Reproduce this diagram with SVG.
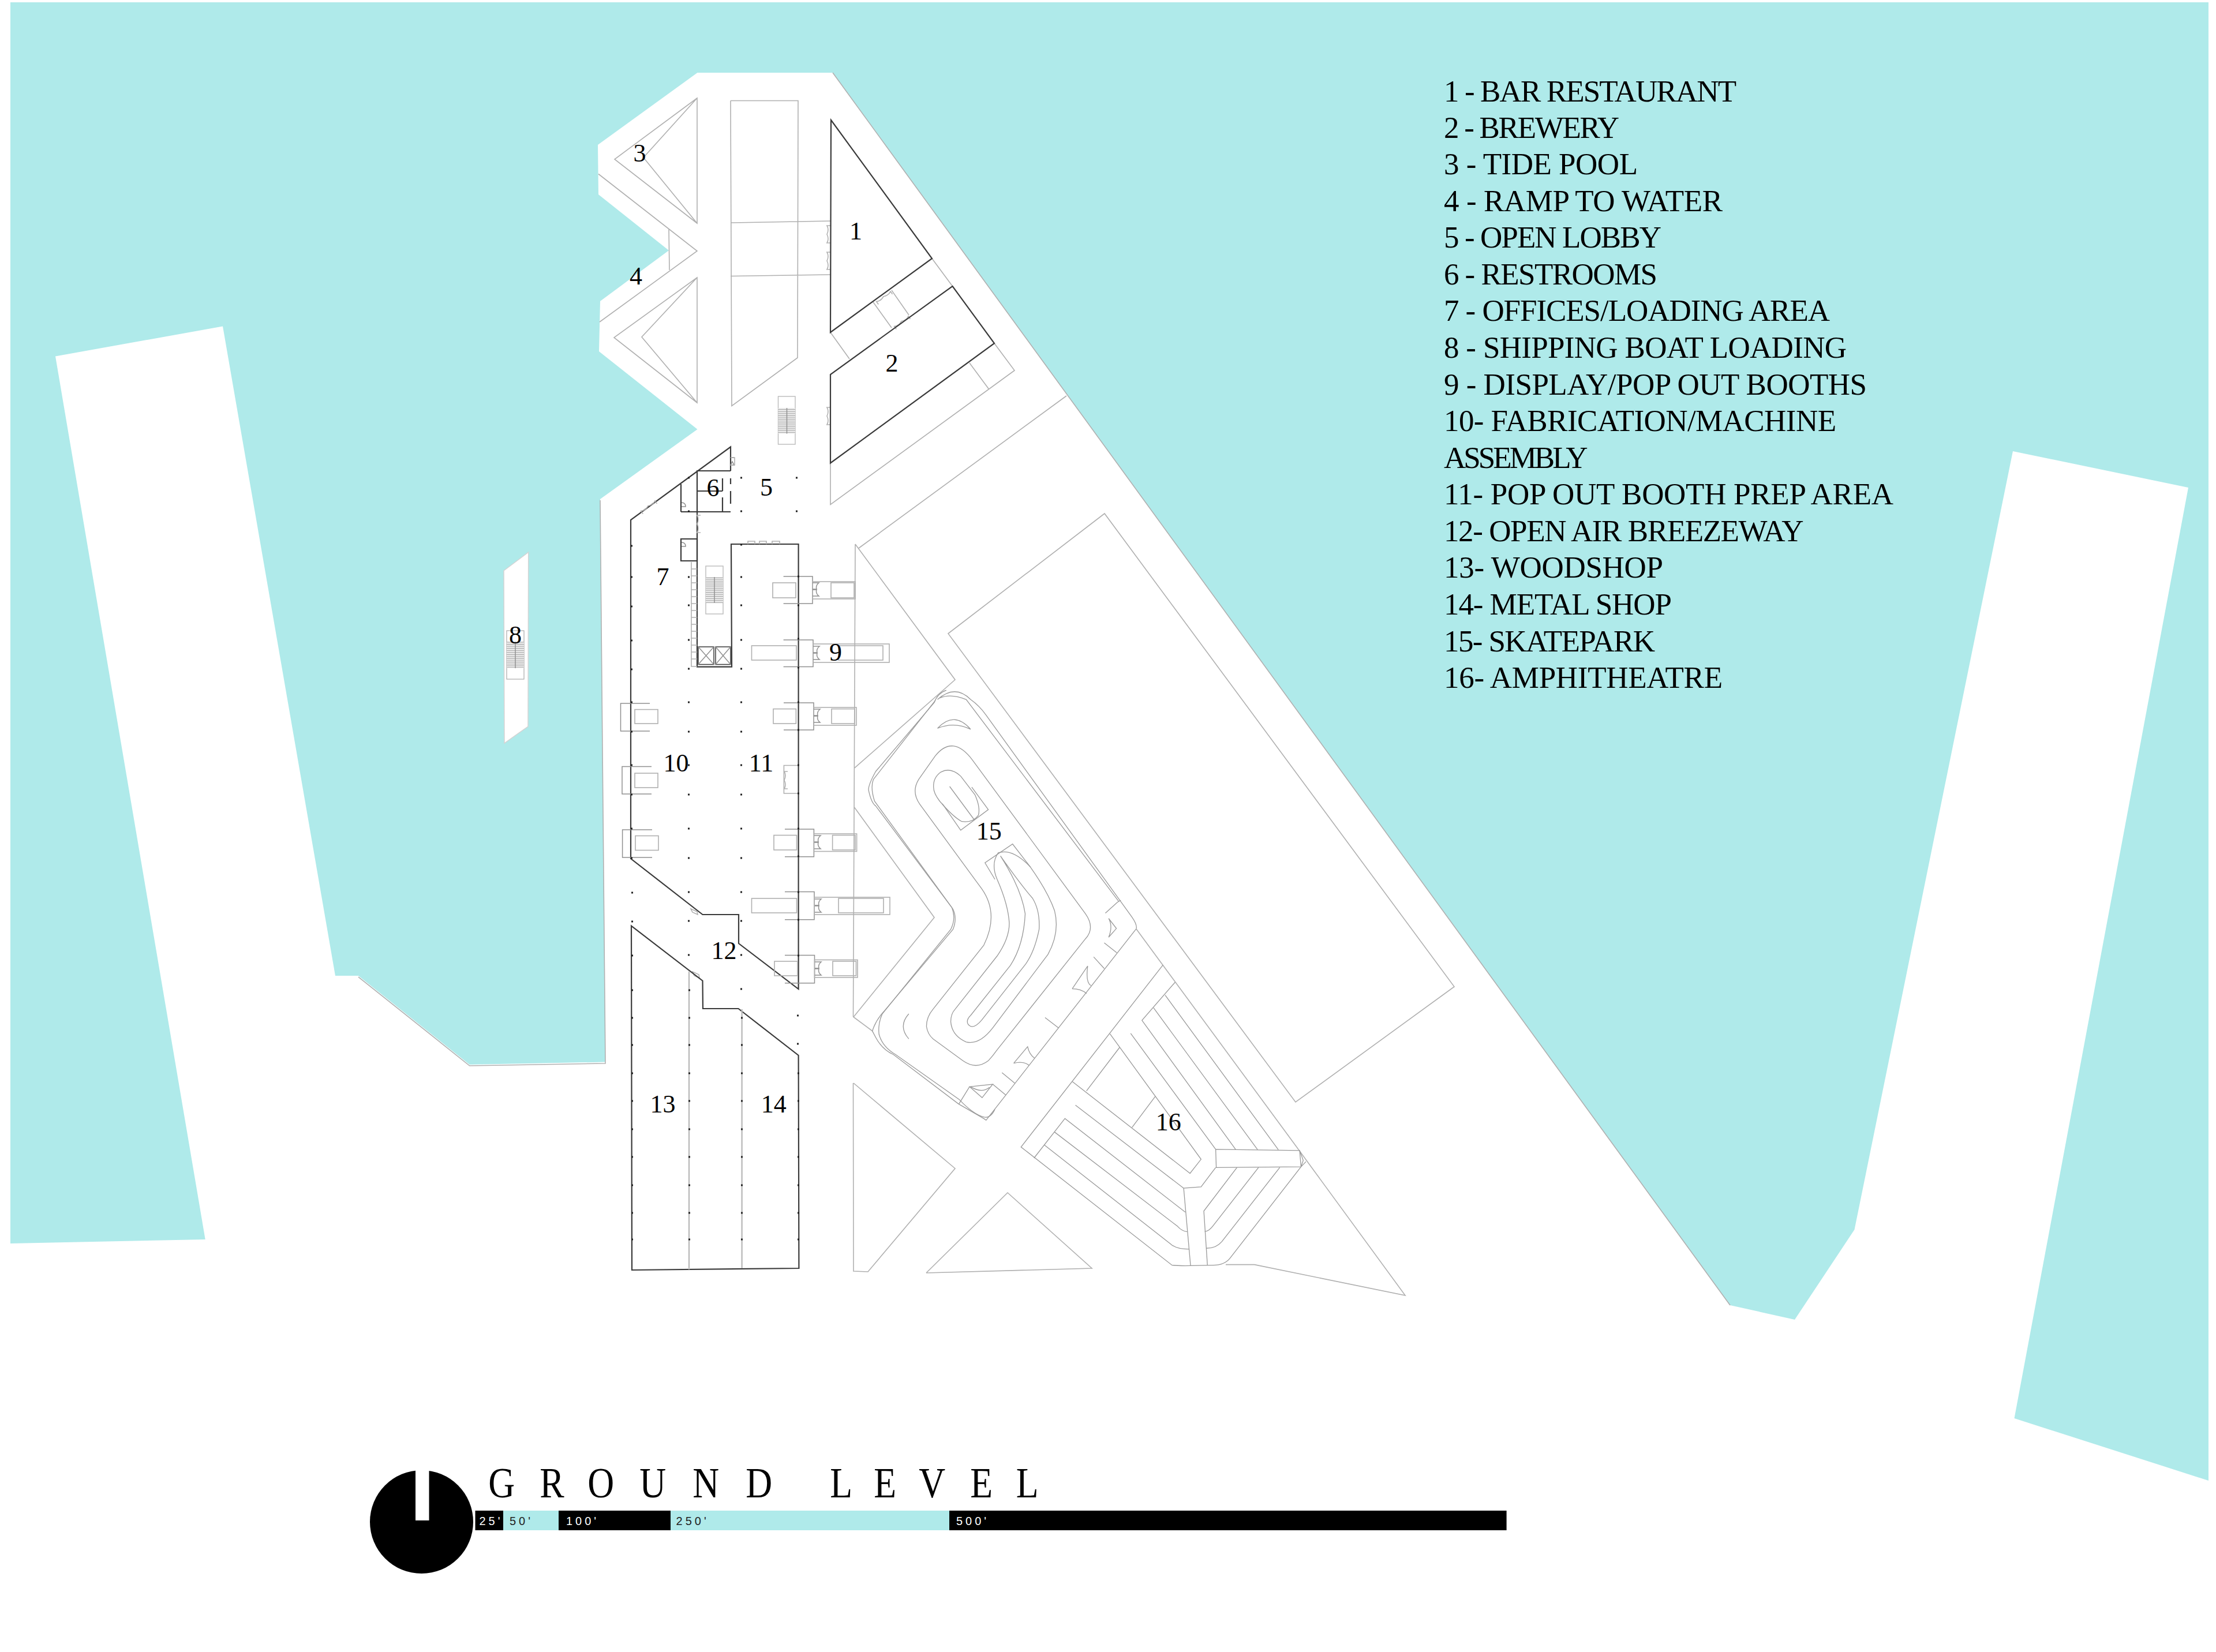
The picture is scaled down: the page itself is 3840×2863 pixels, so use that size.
<svg xmlns="http://www.w3.org/2000/svg" width="3840" height="2863" viewBox="0 0 3840 2863">
<defs>
<style>
.l{fill:none;stroke:#b0b0b0;stroke-width:1.6}
.m{fill:none;stroke:#909090;stroke-width:1.5}
.d{fill:none;stroke:#3a3a3a;stroke-width:2.2}
.s{fill:none;stroke:#999;stroke-width:1.3}
.s *{vector-effect:non-scaling-stroke}
.t{font-family:"Liberation Serif",serif;fill:#000}
.n{font-size:44px;text-anchor:middle}
.k{font-size:53px}
.b{font-family:"Liberation Sans",sans-serif;font-size:20px;letter-spacing:5px}
</style>
<pattern id="h" width="10" height="3.6" patternUnits="userSpaceOnUse"><rect width="10" height="3.6" fill="#ededed"/><rect width="10" height="1" fill="#9d9d9d"/></pattern>
<path id="dv" d="M6 0H0Q4 7 0 15Q4 23 0 30H6" class="l"/>
<path id="bd" d="M0 0H11Q5 5 7 11H0M0 12H7Q5 18 11 23H0" class="m"/>
</defs>
<rect width="3840" height="2863" fill="#fff"/>
<g id="water">
<polygon fill="#afeaea" points="18,4 3827,4 3827,2566 3490.5,2458 3792,845 3488,782 3213.5,2131 3110,2287 2998,2262 1443,126 1208.5,126 1036,251 1037,337 1159,434 1040,522 1038,609 1208.5,744 1040,865 1049,1840.5 813.7,1845 621,1691 581,1691 386,565.5 96,617.6 355.7,2148 18,2155"/>
<polygon fill="#fff" stroke="#d4d4d4" stroke-width="1.5" points="873,989 915.7,957 915,1259 874,1288"/>
<path class="l" d="M1443 126L2998 2262M1040 867L1049 1843L813.7 1847L621 1693"/>
</g>
<g id="boat-stair">
<rect x="878" y="1093" width="30" height="84" fill="#fff" stroke="#aaa" stroke-width="1.2"/>
<rect x="878" y="1112" width="30" height="46" fill="url(#h)"/>
<path d="M893 1112V1158" class="m"/>
</g>
<g id="north-pier">
<path class="l" d="M1208 170L1065 276L1208 387ZM1208 170L1115 273L1208 387"/>
<path class="l" d="M1037 301.500L1208 435L1039 558M1159 397L1160 468"/>
<path class="l" d="M1208 481L1064 585L1208 698ZM1208 481L1112 584L1208 698"/>
<path class="l" d="M1266 174.500H1383L1382 620L1268 703.500L1266 174.500M1266 386L1439 383M1266 478.500L1439 476"/>
<path class="l" d="M1615 448L1650.500 496M1439 576L1472 622M1513 523.500L1545 568M1545 503L1575 546M1723 595L1758 642L1439 874.500V802.500M1680 629L1714 675M1848 686L1488 950"/>
<rect x="1348.500" y="687" width="29.500" height="83" fill="#fff" stroke="#bbb" stroke-width="1.4"/>
<rect x="1348.500" y="707" width="29.500" height="44.500" fill="url(#h)"/>
<path d="M1363.500 707V751.500" class="m"/>
<use href="#dv" x="1433" y="391"/><use href="#dv" x="1433" y="437"/><use href="#dv" x="1433" y="706"/>
<use href="#dv" transform="translate(1543 505) rotate(54)"/><use href="#dv" transform="translate(1574 548) rotate(54)"/>
</g>
<g id="bar-restaurant"><polygon class="d" points="1440,208 1615,448 1439,576"/></g>
<g id="brewery"><polygon class="d" points="1650.500,496 1723,595 1439,802.500 1439,649"/></g>
<g id="main-building">
<path class="d" d="M1266 816V774.500L1093 901V1488L1217.500 1585H1280V1635L1383.600 1714V943H1267L1268 1155.600H1208V816H1266"/>
<path class="d" d="M1266 829V839M1266 851V873M1180 887H1266M1208 851H1252M1252 829V851M1252 862V887M1180 839V887M1180 934H1208V972H1180Z"/>
<path class="m" d="M1272 793h-6M1266 806h6l-3-6zM1181 878h7q0 -7 -7 -7M1181 947h7q0 -7 -7 -7"/>
<rect x="1210" y="1121" width="27" height="30.500" class="d" style="stroke-width:1.500"/><rect x="1240" y="1121" width="26" height="30.500" class="d" style="stroke-width:1.500"/>
<path class="m" d="M1210 1121L1237 1151.500M1237 1121L1210 1151.500M1240 1121L1266 1151.500M1266 1121L1240 1151.500"/>
<rect x="1223" y="981" width="30" height="83" fill="#fff" stroke="#bbb" stroke-width="1.4"/>
<rect x="1223" y="1000" width="30" height="45" fill="url(#h)"/>
<path class="m" d="M1238 1000V1045"/>
<path class="l" d="M1198 974V1155H1208M1198 986h10M1198 998h10M1198 1010h10M1198 1022h10M1198 1034h10M1198 1046h10M1198 1058h10M1198 1070h10M1198 1082h10M1198 1094h10M1198 1106h10M1198 1118h10M1198 1130h10M1198 1142h10"/>
<use href="#dv" x="1208" y="893"/>
<use href="#dv" transform="translate(1135 868) rotate(54)"/>
<path class="l" d="M1296 943v-5h12v5M1316 943v-5h12v5M1338 943v-5h13v5M1266 793h7v13h-7M1383 1326.500h-24.600V1375H1383"/>
<use href="#dv" transform="translate(1359 1337)"/>
<path class="l" d="M1197 1575l11 5l1 5l-9 -4zM1200 1684l11 5l1 6l-9 -4z"/>
</g>
<g id="booths">
<g class="m">
<path d="M1357.600 999H1408V1046H1357.600M1357.600 1109H1409V1155.600H1357.600M1358 1218H1410V1265H1358M1360 1437H1410.400V1484.700H1360M1360 1545.600H1411V1593.800H1360M1360 1655.500H1411.500V1703.700H1360M1126 1219H1075.500V1267H1126M1129 1328.600H1078V1376H1129M1130 1438H1078.600V1486H1130" fill="none"/>
</g>
<g class="l">
<rect x="1339" y="1010" width="40" height="26"/><rect x="1408" y="1008" width="74" height="30"/><rect x="1440" y="1010" width="40" height="26"/>
<rect x="1302.500" y="1119" width="77.500" height="25"/><rect x="1409" y="1116" width="132" height="32"/><rect x="1453" y="1119" width="77" height="25"/>
<rect x="1340" y="1228.600" width="39.400" height="25.400"/><rect x="1410" y="1226" width="74" height="31"/><rect x="1441" y="1228.600" width="40" height="25.400"/>
<rect x="1341" y="1447.500" width="39.500" height="25.500"/><rect x="1410.400" y="1445" width="74.200" height="30.500"/><rect x="1442.600" y="1447.500" width="39.400" height="25.500"/>
<rect x="1302.500" y="1557" width="78" height="25"/><rect x="1411" y="1555" width="131" height="30"/><rect x="1453" y="1557" width="78" height="25"/>
<rect x="1342" y="1666" width="40" height="25"/><rect x="1411.500" y="1663.500" width="74.500" height="30.500"/><rect x="1443" y="1666" width="40.500" height="25"/>
<rect x="1100" y="1229.600" width="40" height="24.400"/><rect x="1100" y="1340" width="40" height="25"/><rect x="1101" y="1448.500" width="40" height="25"/>
</g>
<use href="#bd" x="1408" y="1010"/><use href="#bd" x="1409" y="1120"/><use href="#bd" x="1410" y="1229"/><use href="#bd" x="1411" y="1448"/><use href="#bd" x="1412" y="1558"/><use href="#bd" x="1412" y="1667"/>
</g>
<g id="lower-shops">
<path class="d" d="M1094 1604.600L1217.500 1699.700L1218 1748H1279.500L1383.600 1829L1384.400 2198L1095 2201Z"/>
<path class="l" style="stroke-width:2.4;stroke:#bbb" d="M1194 1683.600V2200M1285.600 1749V2198"/>
</g>
<path id="columns" fill="none" stroke="#222" stroke-width="3" d="M1192 828h3M1192 886h3M1192 1000h3M1192 1049h3M1192 1109h3M1192 1159h3M1192 1217h3M1192 1268h3M1192 1326h3M1192 1377h3M1192 1436h3M1192 1487h3M1192 1546h3M1192 1596h3M1192 1655h3M1283 828h3M1283 886h3M1283 944h3M1283 1000h3M1283 1049h3M1283 1109h3M1283 1159h3M1283 1217h3M1283 1268h3M1283 1326h3M1283 1377h3M1283 1436h3M1283 1487h3M1283 1546h3M1283 1596h3M1283 1655h3M1283 1714h3M1379 828h3M1379 886h3M1382 999h3M1382 1049h3M1382 1107h3M1382 1157h3M1382 1217h3M1382 1265h3M1382 1326h3M1382 1375h3M1382 1436h3M1382 1484h3M1382 1546h3M1382 1594h3M1382 1656h3M1381 1760h3M1381 1809h3M1382 1860h3M1382 1908h3M1382 1957h3M1382 2005h3M1382 2054h3M1382 2102h3M1382 2148h3M1093 946h3M1093 1000h3M1093 1051h3M1093 1110h3M1093 1160h3M1093 1217h3M1093 1268h3M1093 1326h3M1093 1377h3M1093 1436h3M1093 1487h3M1094 1547h3M1094 1597h3M1094 1656h3M1094 1716h3M1094 1764h3M1094 1811h3M1094 1860h3M1094 1908h3M1094 1957h3M1094 2005h3M1094 2054h3M1094 2102h3M1094 2148h3M1193 1716h3M1193 1764h3M1193 1811h3M1193 1860h3M1193 1908h3M1193 1957h3M1193 2005h3M1193 2054h3M1193 2102h3M1193 2148h3M1284 1764h3M1284 1811h3M1284 1860h3M1284 1908h3M1284 1957h3M1284 2005h3M1284 2054h3M1284 2102h3M1284 2148h3"/>
<g id="site-lines" class="l">
<path d="M1482 943L1655 1178L1480 1331.600M1480.400 1399L1619 1590L1479 1762.500L1512 1787M1482 943L1478.500 1762M1478.500 1877L1479 2203L1504 2204L1655 2025L1479 1877"/>
<path d="M1605 2206L1746 2067L1892 2198L1605 2206"/>
<polygon points="1643,1098 1914,890 2520,1710 2245,1910"/>
<path d="M2250 1992L2435 2245L2173.600 2191.600H2124"/>
<path d="M1969 1610L2250 1992"/>
</g>
<g id="skatepark" class="s" transform="translate(1460 1150) scale(.3827 .542)">
<path d="M380 1160Q385 1185 410 1200L545 1270Q605 1300 660 1270Q680 1255 700 1235L1100 880Q1145 845 1100 800L590 310Q500 225 420 295L345 370Q310 410 350 450L630 720Q710 800 640 900L410 1105Q380 1130 380 1160Z"/>
<path d="M412 395Q410 365 445 347Q490 330 535 360L600 420Q625 460 615 485Q590 510 540 505Q500 490 440 440Q412 415 412 395Z"/>
<path d="M585 395L660 467L535 533L452 448M485 393L597 500"/>
<path d="M490 1145Q490 1120 510 1105L700 935Q755 880 755 830Q750 770 700 690Q670 640 705 605Q770 590 850 650Q930 730 960 790Q985 860 930 930L680 1165Q620 1220 560 1210Q495 1190 490 1145Z"/>
<path d="M565 1145Q565 1135 580 1125L760 965Q820 900 827 800Q810 720 715 615Q810 710 860 750Q895 790 890 850Q870 920 830 960L630 1140Q600 1165 580 1160Q565 1155 565 1145Z"/>
<path d="M690 690L645 637L770 577L850 650"/>
<path d="M430 207Q505 150 580 210Q505 185 430 207ZM300 1120Q250 1160 300 1200"/>
<path d="M470 85Q430 95 415 125L150 345Q115 390 118 405Q130 445 150 455L500 785Q520 815 500 850L190 1110Q150 1140 135 1175L150 1195Q180 1235 230 1250L525 1408L640 1455L650 1460L1330 848"/>
<path d="M420 118L140 370Q125 395 145 440L495 780Q515 815 490 850L180 1120Q160 1150 165 1185Q180 1225 240 1250L530 1395Q590 1440 640 1450Q670 1455 690 1425"/>
<path d="M430 115Q510 65 580 115Q620 135 650 165L1310 810Q1335 835 1330 848M440 110Q490 95 560 115L1250 760M1190 798L1245 763L1260 757"/>
<path d="M1205 815Q1225 840 1205 875L1240 847ZM1185 893L1242 925M1137 938L1185 975M1040 1040L1110 967Q1100 1020 1125 1030M1040 1040Q1080 1040 1105 1055M917 1132L978 1165M775 1278L838 1225Q845 1250 870 1262M775 1278Q820 1270 845 1285M722 1308L780 1342M575 1353L680 1345L632 1388ZM580 1353Q630 1375 665 1355M680 1345L740 1380M527 1408L575 1353"/>
</g>
<g id="amphitheatre" class="s" transform="translate(1720 1650) scale(.4785 .408)">
<path d="M617 55L103 828L650 1330Q670 1333 720 1332L800 1330Q840 1330 860 1300L1117 912"/>
<path d="M425 347L755 880L715 940L289 550M460 405L340 590M590 612L505 745"/>
<path d="M661 128L541 290L880 838M625 183L1035 840M583 237L960 840M500 345L808 838"/>
<path d="M808 838L1112 843L1117 912L810 915ZM1112 843L1125 885L1117 912L1135 890"/>
<path d="M885 915L765 1100L778 1330M692 1003L717 1332M692 1003L755 997L808 915M963 915L800 1160Q785 1185 768 1187M1040 915L830 1230Q810 1258 775 1258"/>
<path d="M150 875L262 707L698 1105M300 650L692 1003M225 765L670 1165Q685 1185 705 1188M188 820L645 1240Q665 1262 712 1262"/>
</g>
<g id="labels" class="t n">
<text x="1483" y="415">1</text><text x="1545.500" y="644">2</text><text x="1108.600" y="279.600">3</text><text x="1102" y="493">4</text><text x="1328" y="859">5</text><text x="1235.500" y="860">6</text><text x="1148.600" y="1013.800">7</text><text x="893" y="1115">8</text><text x="1448" y="1145">9</text><text x="1171.600" y="1336.700">10</text><text x="1319" y="1336.700">11</text><text x="1254.600" y="1662">12</text><text x="1148.600" y="1928">13</text><text x="1340.800" y="1928">14</text><text x="1713.700" y="1455">15</text><text x="2024.800" y="1959">16</text>
</g>
<g id="legend" class="t k">
<text x="2502" y="175.700" textLength="507">1 - BAR RESTAURANT</text>
<text x="2502" y="239.300" textLength="304">2 - BREWERY</text>
<text x="2502" y="302" textLength="336">3 - TIDE POOL</text>
<text x="2502" y="365.700" textLength="483">4 - RAMP TO WATER</text>
<text x="2502" y="429" textLength="377">5 - OPEN LOBBY</text>
<text x="2502" y="493" textLength="370">6 - RESTROOMS</text>
<text x="2502" y="556" textLength="669">7 - OFFICES/LOADING AREA</text>
<text x="2502" y="620" textLength="698">8 - SHIPPING BOAT LOADING</text>
<text x="2502" y="683.600" textLength="733">9 - DISPLAY/POP OUT BOOTHS</text>
<text x="2502" y="747" textLength="680">10- FABRICATION/MACHINE</text>
<text x="2502" y="811" textLength="249.500">ASSEMBLY</text>
<text x="2502" y="874" textLength="779">11- POP OUT BOOTH PREP AREA</text>
<text x="2502" y="938" textLength="623.600">12- OPEN AIR BREEZEWAY</text>
<text x="2502" y="1001" textLength="380">13- WOODSHOP</text>
<text x="2502" y="1065" textLength="395">14- METAL SHOP</text>
<text x="2502" y="1128.600" textLength="366">15- SKATEPARK</text>
<text x="2502" y="1192" textLength="483">16- AMPHITHEATRE</text>
</g>
<g id="north-arrow">
<circle cx="730.500" cy="2637.500" r="89.500" fill="#000"/>
<rect x="720" y="2540" width="23.500" height="95" fill="#fff"/>
</g>
<g id="title">
<text class="t" font-size="74" transform="scale(.86 1)" y="2595" x="984 1087.500 1184 1288.700 1395.700 1502.700 1568 1672.400 1760.800 1851.500 1955 2047.400">GROUND LEVEL</text>
</g>
<g id="scale-bar">
<rect x="823.500" y="2618" width="48.500" height="34" fill="#000"/>
<rect x="872" y="2618" width="96" height="34" fill="#afeaea"/>
<rect x="968" y="2618" width="194" height="34" fill="#000"/>
<rect x="1162" y="2618" width="483" height="34" fill="#afeaea"/>
<rect x="1645" y="2618" width="965.600" height="34" fill="#000"/>
<g class="b">
<text x="830.500" y="2642.700" fill="#fff">25'</text>
<text x="883" y="2642.700" fill="#222">50'</text>
<text x="981" y="2642.700" fill="#fff">100'</text>
<text x="1171.600" y="2642.700" fill="#222">250'</text>
<text x="1657" y="2642.700" fill="#fff">500'</text>
</g>
</g>
</svg>
